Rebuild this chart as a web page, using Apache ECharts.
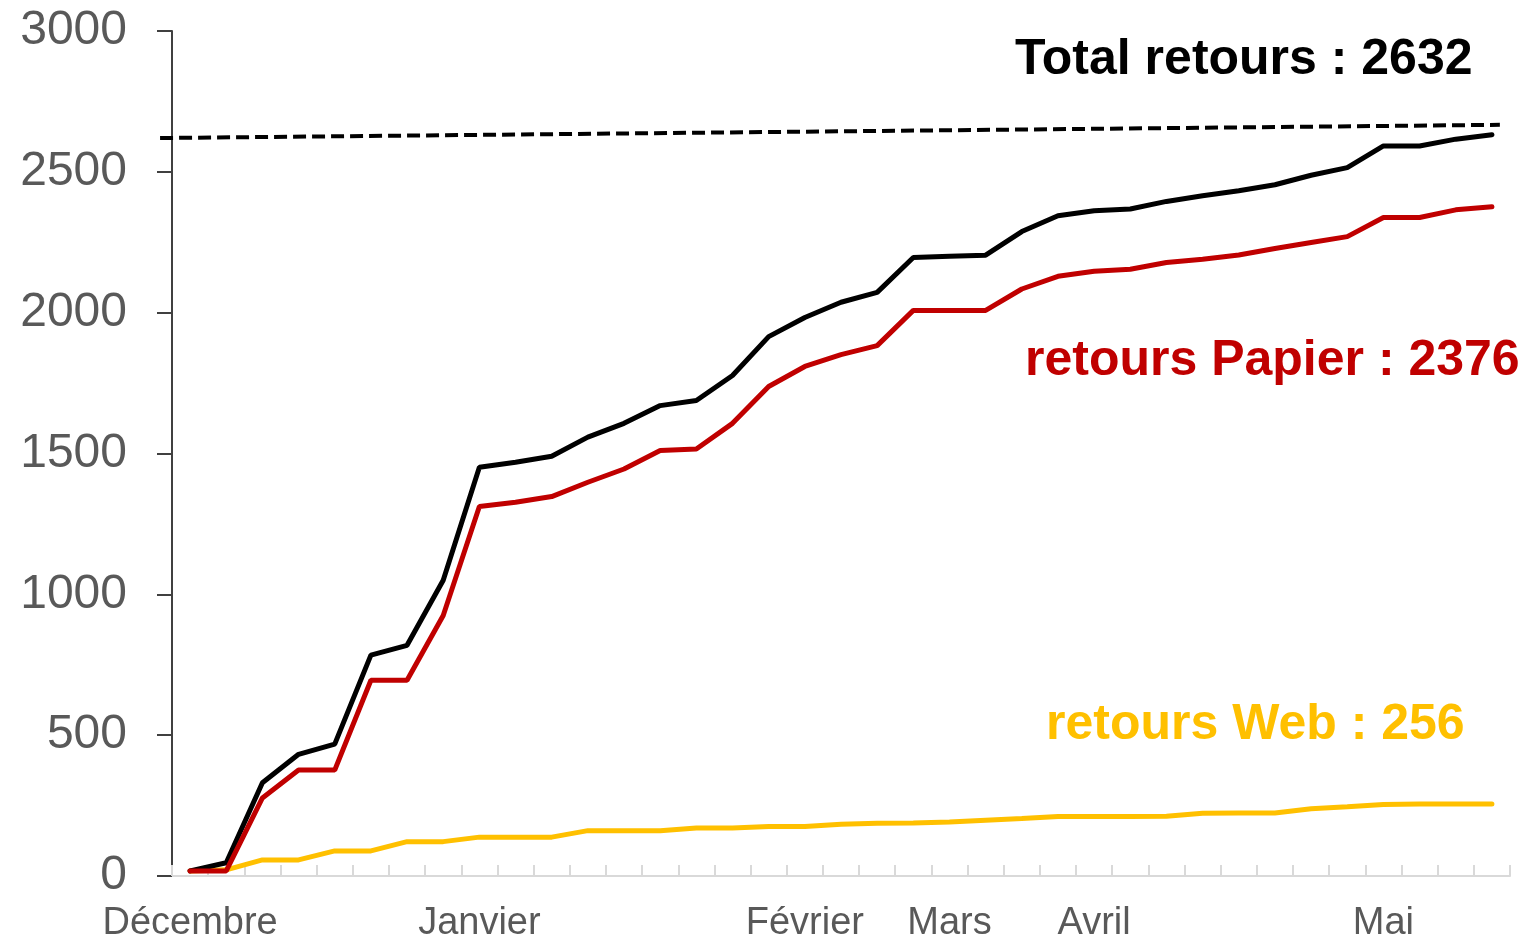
<!DOCTYPE html>
<html>
<head>
<meta charset="utf-8">
<title>Retours</title>
<script src="https://cdn.jsdelivr.net/npm/echarts@6/dist/echarts.min.js"></script>
<style>
    html, body { margin: 0; padding: 0; background: #ffffff; }
    #chartArea { width: 1524px; height: 943px; }
</style>
</head>
<body>
<div id="chartArea"></div>
<script>
// one point per week, month names only where the month starts
var categories = ['Décembre', '', '', '', '', '', '', '', 'Janvier', '', '', '', '', '', '', '', '',
    'Février', '', '', '', 'Mars', '', '', '', 'Avril', '', '', '', '', '', '', '', 'Mai', '', '', ''];

var totalRetours = [18, 47, 331, 432, 468, 784, 819, 1050, 1451, 1469, 1490, 1558, 1607, 1670, 1688, 1777,
    1915, 1983, 2037, 2072, 2196, 2200, 2204, 2288, 2344, 2362, 2368, 2395, 2415, 2433, 2454, 2488, 2515,
    2592, 2592, 2616, 2632];
var retoursPapier = [18, 18, 277, 376, 376, 695, 695, 925, 1312, 1327, 1347, 1398, 1445, 1511, 1516, 1607,
    1738, 1809, 1851, 1883, 2008, 2008, 2008, 2084, 2129, 2147, 2154, 2178, 2190, 2205, 2228, 2249, 2270,
    2338, 2338, 2365, 2376];
var retoursWeb = [18, 22, 57, 57, 89, 89, 122, 122, 138, 138, 138, 161, 161, 161, 170, 170, 176, 176, 184,
    187, 188, 192, 198, 204, 211, 211, 211, 212, 223, 224, 224, 239, 246, 254, 256, 256, 256];

// dashed guide line (position in week index, value); it sticks out left of the axis
var tendanceX = [-0.83, 36.22];
var tendanceY = [2620, 2667];

var yTicks = [0, 500, 1000, 1500, 2000, 2500, 3000];

var FONT = 'Liberation Sans, Arial, sans-serif';

// plot box
var GRID_LEFT = 172, GRID_RIGHT = 14, GRID_TOP = 31, GRID_BOTTOM = 67;
var CHART_W = 1524;

var myChart = echarts.init(document.getElementById('chartArea'));

function lastOf(arr) {
    return arr[arr.length - 1];
}

// the guide line lives on a full-width grid whose week scale matches the main one
var weekPx = (CHART_W - GRID_LEFT - GRID_RIGHT) / categories.length;
var wideMin = -0.5 - GRID_LEFT / weekPx;
var wideMax = categories.length - 0.5 + GRID_RIGHT / weekPx;

var option = {
    animation: false,
    backgroundColor: '#ffffff',
    grid: [{
        left: GRID_LEFT,
        right: GRID_RIGHT,
        top: GRID_TOP,
        bottom: GRID_BOTTOM,
        containLabel: false,
        outerBoundsMode: 'none'
    }, {
        left: 0,
        right: 0,
        top: GRID_TOP,
        bottom: GRID_BOTTOM,
        containLabel: false,
        outerBoundsMode: 'none'
    }],
    xAxis: [{
        type: 'category',
        gridIndex: 0,
        data: categories,
        boundaryGap: true,
        axisLine: { lineStyle: { color: '#d9d9d9', width: 2 } },
        axisTick: {
            show: true,
            inside: true,
            length: 11,
            interval: 0,
            lineStyle: { color: '#d9d9d9', width: 2 }
        },
        axisLabel: {
            interval: 0,
            hideOverlap: false,
            margin: 29,
            color: '#595959',
            fontSize: 38,
            fontFamily: FONT
        },
        splitLine: { show: false }
    }, {
        type: 'value',
        gridIndex: 1,
        show: false,
        min: wideMin,
        max: wideMax
    }],
    yAxis: [{
        type: 'value',
        gridIndex: 0,
        min: yTicks[0],
        max: yTicks[yTicks.length - 1],
        interval: 500,
        axisLine: { show: true, onZero: false, lineStyle: { color: '#404040', width: 2 } },
        axisTick: { show: true, length: 15, lineStyle: { color: '#404040', width: 2 } },
        axisLabel: {
            margin: 45,
            color: '#595959',
            fontSize: 48,
            fontFamily: FONT,
            formatter: function(v) {
                return String(v);
            }
        },
        splitLine: { show: false }
    }, {
        type: 'value',
        gridIndex: 1,
        show: false,
        min: yTicks[0],
        max: yTicks[yTicks.length - 1]
    }],
    series: [{
        name: 'retours Web',
        type: 'line',
        data: retoursWeb,
        symbol: 'none',
        lineStyle: { color: '#FFC000', width: 5, cap: 'round' },
        z: 2
    }, {
        name: 'Total retours',
        type: 'line',
        data: totalRetours,
        symbol: 'none',
        lineStyle: { color: '#000000', width: 5, cap: 'round' },
        z: 3
    }, {
        name: 'retours Papier',
        type: 'line',
        data: retoursPapier,
        symbol: 'none',
        lineStyle: { color: '#C00000', width: 5, cap: 'round' },
        z: 4
    }, {
        name: 'tendance',
        type: 'line',
        xAxisIndex: 1,
        yAxisIndex: 1,
        data: [[tendanceX[0], tendanceY[0]], [tendanceX[1], tendanceY[1]]],
        symbol: 'none',
        lineStyle: { color: '#000000', width: 4, type: [13, 6] },
        z: 5
    }],
    graphic: [{
        type: 'text',
        left: 1015,
        top: 35,
        style: {
            text: 'Total retours : ' + lastOf(totalRetours),
            font: 'bold 50px ' + FONT,
            fill: '#000000'
        }
    }, {
        type: 'text',
        left: 1025,
        top: 336,
        style: {
            text: 'retours Papier : ' + lastOf(retoursPapier),
            font: 'bold 50px ' + FONT,
            fill: '#C00000'
        }
    }, {
        type: 'text',
        left: 1046,
        top: 700,
        style: {
            text: 'retours Web : ' + lastOf(retoursWeb),
            font: 'bold 50px ' + FONT,
            fill: '#FFC000'
        }
    }]
};

myChart.setOption(option);
</script>
</body>
</html>
